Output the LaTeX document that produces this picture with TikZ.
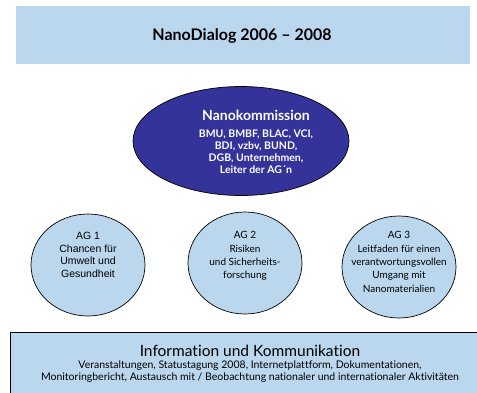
\documentclass[tikz,border=0pt]{standalone}
\usepackage{fontspec}
\setmainfont{Lato}[Ligatures=NoCommon]
\newfontfamily\arialfont{Liberation Sans}
\usetikzlibrary{shapes.geometric}
\definecolor{lightblue}{HTML}{BBD7EE}
\definecolor{navy}{HTML}{333399}
\tikzset{
  agcircle/.style={ellipse, draw=black, line width=0.7pt, fill=lightblue, minimum width=114pt, minimum height=102pt, inner sep=0pt, align=center},
  agtext/.style={font=\fontsize{10}{13.3}\selectfont, align=center},
}
\begin{document}
\begin{tikzpicture}[x=1pt,y=-1pt]
\useasboundingbox (0,0) rectangle (477,392);
% top box
\node (top) [fill=lightblue, minimum width=454pt, minimum height=58pt, inner sep=0pt, anchor=north west] at (16,6) {};
\node (title) at (242,36) {\fontsize{16}{18}\selectfont\bfseries NanoDialog 2006 -- 2008};
% ellipse
\node (komm) [ellipse, draw=black, line width=0.7pt, fill=navy, minimum width=216pt, minimum height=109pt, inner sep=0pt] at (241,141) {};
\node (kommtxt) [text=white, align=center, font=\bfseries] at (256,142)
 {{\fontsize{14}{17}\selectfont Nanokommission}\\[5pt]
  {\fontsize{10.5}{13.5}\selectfont BMU, BMBF, BLAC, VCI,}\\
  {\fontsize{10.5}{13.5}\selectfont BDI, vzbv, BUND,}\\
  {\fontsize{10.5}{13.5}\selectfont DGB, Unternehmen,}\\
  {\fontsize{10.5}{13.5}\selectfont Leiter der AG\textasciiacute n}};
% circles
\node (ag1) [agcircle] at (88,265) {};
\node (ag1t) [align=center, font=\arialfont\fontsize{10.5}{12.5}\selectfont] at (88,255) {AG 1\\Chancen für\\Umwelt und\\Gesundheit};
\node (ag2) [agcircle] at (245,263) {};
\node (ag2t) [agtext] at (245,256) {AG 2\\Risiken\\und Sicherheits-\\forschung};
\node (ag3) [agcircle] at (399,267) {};
\node (ag3t) [agtext] at (399,262) {AG 3\\Leitfaden für einen\\verantwortungsvollen\\Umgang mit\\Nanomaterialien};
% bottom box
\node (info) [draw=black, line width=0.7pt, fill=lightblue, minimum width=480pt, minimum height=80pt, inner sep=0pt, anchor=north west] at (10,332) {};
\node (infot) [align=center] at (250,364)
 {{\fontsize{15.5}{17}\selectfont Information und Kommunikation}\\[0pt]
  {\fontsize{10.5}{13.5}\selectfont Veranstaltungen, Statustagung 2008, Internetplattform, Dokumentationen,}\\
  {\fontsize{10.5}{13.5}\selectfont Monitoringbericht, Austausch mit / Beobachtung nationaler und internationaler Aktivitäten}};
\end{tikzpicture}
\end{document}
